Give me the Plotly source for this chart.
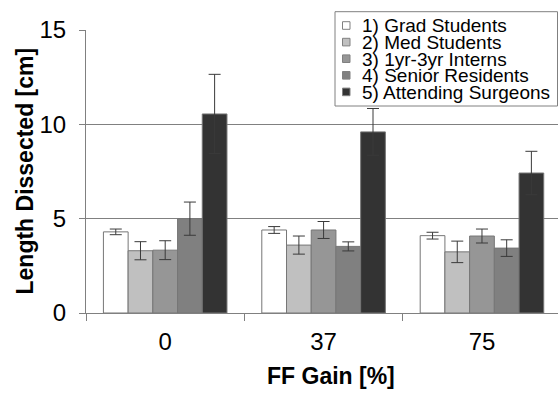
import plotly.graph_objects as go

# Feed-forward gain settings (categories on the x axis)
gains = ["0", "37", "75"]

# Participant groups
group_names = [
    "1) Grad Students",
    "2) Med Students",
    "3) 1yr-3yr Interns",
    "4) Senior Residents",
    "5) Attending Surgeons",
]

# Mean length dissected [cm] per group, for each gain setting
grad_students = [4.30, 4.40, 4.10]
med_students = [3.30, 3.60, 3.24]
interns = [3.33, 4.40, 4.08]
senior_residents = [5.00, 3.53, 3.44]
attending_surgeons = [10.55, 9.60, 7.42]

# Error bar half-lengths [cm]
grad_students_err = [0.15, 0.18, 0.18]
med_students_err = [0.48, 0.48, 0.57]
interns_err = [0.50, 0.45, 0.37]
senior_residents_err = [0.88, 0.24, 0.44]
attending_surgeons_err = [2.10, 1.24, 1.15]

y_ticks = [0, 5, 10, 15]

means = [grad_students, med_students, interns, senior_residents, attending_surgeons]
errors = [grad_students_err, med_students_err, interns_err,
          senior_residents_err, attending_surgeons_err]
fills = ["#ffffff", "#c0c0c0", "#969696", "#808080", "#333333"]

W, H = 558, 395
ML, MR, MT, MB = 86, 0, 30, 82
PW, PH = W - ML - MR, H - MT - MB
FONT = "Liberation Sans, Arial, sans-serif"


def px_x(px):
    return (px - ML) / PW


def px_y(py):
    return (H - MB - py) / PH


fig = go.Figure()
for name, vals, errs, col in zip(group_names, means, errors, fills):
    fig.add_trace(go.Bar(
        x=gains, y=vals, name=name,
        marker=dict(color=col, line=dict(color="#767676", width=1)),
        error_y=dict(type="data", array=errs, visible=True,
                     color="#3a3a3a", thickness=1, width=6),
        showlegend=False,
    ))

# Legend box drawn by hand so rows sit tightly together
shapes = [dict(type="rect", xref="paper", yref="paper", layer="above",
               x0=px_x(335), x1=px_x(557.5), y0=px_y(106), y1=px_y(11.7),
               line=dict(color="#808080", width=1), fillcolor="#ffffff")]
annotations = []
row_y = [25.5, 42.1, 58.7, 75.3, 91.9]
for name, col, ry in zip(group_names, fills, row_y):
    shapes.append(dict(type="rect", xref="paper", yref="paper", layer="above",
                       x0=px_x(342.5), x1=px_x(350), y0=px_y(ry + 3.8), y1=px_y(ry - 3.8),
                       line=dict(color="#808080", width=1), fillcolor=col))
    annotations.append(dict(text=name, xref="paper", yref="paper",
                            x=px_x(360), y=px_y(ry + 0.5), xanchor="left", yanchor="middle",
                            showarrow=False, font=dict(family=FONT, size=19, color="#000")))

# Axis titles
annotations.append(dict(text="<b>Length Dissected [cm]</b>", xref="paper", yref="paper",
                        x=px_x(24), y=px_y(171.5), textangle=-90,
                        xanchor="center", yanchor="middle", showarrow=False,
                        font=dict(family=FONT, size=23, color="#000")))
annotations.append(dict(text="<b>FF Gain [%]</b>", xref="paper", yref="paper",
                        x=px_x(331), y=px_y(376), xanchor="center", yanchor="middle",
                        showarrow=False, font=dict(family=FONT, size=23, color="#000")))

fig.update_layout(
    width=W, height=H,
    margin=dict(l=ML, r=MR, t=MT, b=MB, pad=0),
    paper_bgcolor="#ffffff", plot_bgcolor="#ffffff",
    barmode="group", bargap=0.22, bargroupgap=0,
    font=dict(family=FONT, size=24, color="#000"),
    shapes=shapes, annotations=annotations,
    xaxis=dict(
        type="category", range=[-0.5, 2.48],
        showline=True, linecolor="#808080", linewidth=1,
        ticks="outside", tickson="boundaries", ticklen=7, tickcolor="#808080",
        showgrid=False, tickfont=dict(size=24), ticklabelstandoff=7,
    ),
    yaxis=dict(
        range=[0, 15], tickvals=y_ticks, ticktext=[str(v) for v in y_ticks],
        showline=True, linecolor="#808080", linewidth=1,
        ticks="outside", ticklen=6, tickcolor="#808080",
        showgrid=True, gridcolor="#808080", gridwidth=1,
        zeroline=False, tickfont=dict(size=24), ticklabelstandoff=8,
    ),
)

fig.write_html("out.html")
